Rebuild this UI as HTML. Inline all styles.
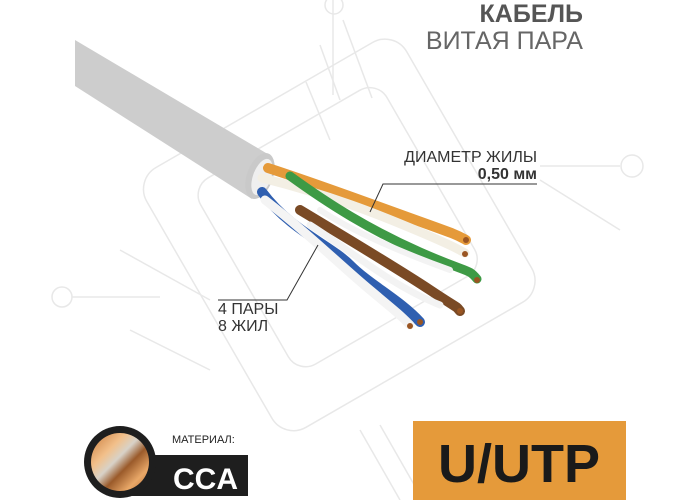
<!DOCTYPE html>
<html><head><meta charset="utf-8"><style>
html,body{margin:0;padding:0;background:#fff;width:700px;height:500px;overflow:hidden}
svg{display:block}
text{font-family:"Liberation Sans Narrow","Liberation Sans",sans-serif}
</style></head><body>
<svg width="700" height="500" viewBox="0 0 700 500" xmlns="http://www.w3.org/2000/svg">
<defs>
<linearGradient id="cab" x1="0" y1="0" x2="0.4" y2="-1">
<stop offset="0" stop-color="#cdcdcd"/><stop offset="0.5" stop-color="#e0e0e0"/><stop offset="1" stop-color="#d2d2d2"/></linearGradient>
<linearGradient id="cu" x1="0" y1="0" x2="1" y2="1">
<stop offset="0" stop-color="#c87a3a"/><stop offset="0.3" stop-color="#f2c08a"/><stop offset="0.45" stop-color="#d8d2c8"/><stop offset="0.6" stop-color="#9a5a2a"/><stop offset="0.8" stop-color="#e9a868"/><stop offset="1" stop-color="#b86a30"/></linearGradient>
</defs>
<!-- watermark -->
<g stroke="#e8e8e8" stroke-width="1.5" fill="none">
<rect x="230" y="120" width="215" height="215" rx="20" transform="rotate(-30 337 227)"/>
<rect x="185" y="85" width="300" height="300" rx="25" transform="rotate(-30 337 227)"/>
<line x1="333" y1="0" x2="333" y2="95"/><line x1="343" y1="20" x2="372" y2="98"/>
<line x1="320" y1="45" x2="340" y2="100"/><line x1="306" y1="82" x2="330" y2="140"/>
<circle cx="334" cy="5" r="9"/><circle cx="632" cy="166" r="11"/><circle cx="62" cy="297" r="10"/>
<line x1="72" y1="297" x2="160" y2="297"/><line x1="620" y1="166" x2="540" y2="166"/>
<line x1="540" y1="180" x2="620" y2="230"/><line x1="120" y1="250" x2="210" y2="300"/>
<line x1="130" y1="330" x2="210" y2="370"/><line x1="360" y1="430" x2="400" y2="500"/>
<line x1="380" y1="425" x2="420" y2="495"/>
</g>
<!-- title -->
<text x="583" y="22" text-anchor="end" font-size="25" font-weight="bold" fill="#555">КАБЕЛЬ</text>
<text x="583" y="49" text-anchor="end" font-size="25" fill="#666">ВИТАЯ ПАРА</text>
<!-- cable -->
<polygon points="75,40 266,153 252,199 75,86" fill="url(#cab)"/>
<ellipse cx="260" cy="176" rx="13" ry="24" transform="rotate(20 260 176)" fill="#c9c9c9"/>
<ellipse cx="262" cy="177" rx="9" ry="19" transform="rotate(20 262 177)" fill="#efefef"/>
<!-- wires -->
<g fill="none" stroke-linecap="round">
<path d="M268 168 C320 185 360 200 410 218 S455 234 466 240" stroke="#e59a3a" stroke-width="10"/>
<path d="M262 178 C330 195 380 215 420 232 S455 248 465 253" stroke="#f3efe4" stroke-width="9"/>
<path d="M290 176 C330 205 370 230 420 252 S468 268 477 279" stroke="#3e9a45" stroke-width="9"/>
<path d="M320 210 C350 230 400 252 450 270" stroke="#f3f3f3" stroke-width="6"/>
<path d="M300 210 C350 240 400 270 430 290 S455 305 460 311" stroke="#7a4a25" stroke-width="10"/>
<path d="M310 225 C350 250 390 285 440 305" stroke="#f3f3f3" stroke-width="7"/>
<path d="M262 192 C290 230 330 245 350 265 S400 300 420 322" stroke="#2f5fb0" stroke-width="10"/>
<path d="M265 200 C310 235 340 265 370 290 S400 315 410 325" stroke="#f4f4f4" stroke-width="9"/>
</g>
<g fill="#9a5522"><circle cx="466" cy="240" r="3"/><circle cx="465" cy="254" r="3"/><circle cx="477" cy="280" r="3"/><circle cx="460" cy="311" r="3"/><circle cx="420" cy="322" r="3"/><circle cx="410" cy="326" r="3"/></g>
<!-- labels -->
<text x="537" y="162" text-anchor="end" font-size="16" fill="#333">ДИАМЕТР ЖИЛЫ</text>
<text x="537" y="179" text-anchor="end" font-size="16" font-weight="bold" fill="#333">0,50 мм</text>
<polyline points="537,184 383,184 370,212" fill="none" stroke="#333" stroke-width="1"/>
<text x="218" y="314" font-size="16" fill="#333">4 ПАРЫ</text>
<text x="218" y="331" font-size="16" fill="#333">8 ЖИЛ</text>
<polyline points="218,300 287,300 318,245" fill="none" stroke="#333" stroke-width="1"/>
<!-- CCA -->
<polygon points="130,455 248,455 248,496 130,496" fill="#1e1e1e"/>
<circle cx="120" cy="462" r="36" fill="#1e1e1e"/>
<circle cx="120" cy="462" r="29" fill="url(#cu)"/>
<text x="172" y="443" font-size="11" fill="#222">МАТЕРИАЛ:</text>
<text x="173" y="489" font-size="30" font-weight="bold" fill="#fff">CCA</text>
<!-- U/UTP -->
<rect x="413" y="421" width="213" height="79" fill="#e59a3a"/>
<text x="519" y="482" text-anchor="middle" font-size="54" font-weight="bold" fill="#1a1a1a">U/UTP</text>
</svg>
</body></html>
